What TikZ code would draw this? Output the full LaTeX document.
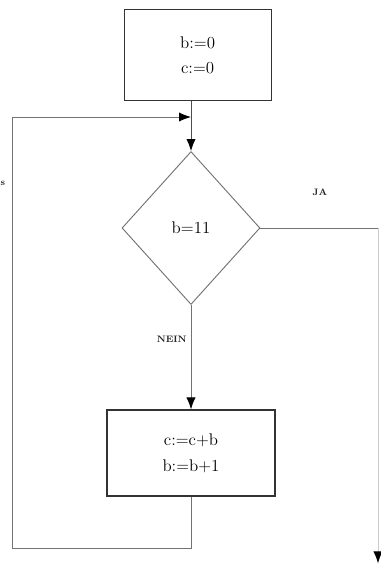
\documentclass[tikz,border=0pt]{standalone}
\usetikzlibrary{shapes.geometric,arrows.meta}
\begin{document}
\begin{tikzpicture}[auto,node distance=5.2cm,>={Latex[length=3.6mm,width=2.8mm,color=black]},line width=0.8pt]
    \tikzstyle{block} = [draw=black!80,line width=1pt,rectangle,align=center,font=\Large,inner sep=0pt]
    \tikzstyle{decision} = [draw=black!55,diamond,font=\Large,inner sep=0pt,minimum width=4.14cm,minimum height=4.59cm]
    \tikzstyle{lbl} = [font=\footnotesize\bfseries,text=black!85]
    \useasboundingbox (0,0) rectangle (11.43,-17.25);
    \node [block,minimum width=4.41cm,minimum height=2.73cm] (init) at (5.93,-1.66) {b:=0\\[4pt] c:=0};
    \node [decision] (test) at (5.73,-6.84) {b=11};
    \node [block,below of=test,node distance=6.75cm,minimum width=5.04cm,minimum height=2.58cm] (body) {c:=c+b\\[4pt] b:=b+1};
    \coordinate (merge) at (test.north |- 0,-3.51);
    \coordinate (exit) at (11.34,-16.9);
    \coordinate (back) at (0.36,-16.44);

    \draw [->,draw=black!70] (test.north |- init.south) -- (test);
    \draw [draw=black!55] (test.east) -- (test.east -| exit);
    \draw [->,draw=black!20] (test.east -| exit) -- (exit);
    \draw [->,draw=black!55] (test) -- node [lbl,pos=0.33,left] {NEIN} (body);
    \draw [->,draw=black!55] (body.south) |- (back) |- (merge);

    \node [lbl] at (9.6,-5.76) {JA};
    \node [lbl] at (0.09,-5.49) {s};
  \end{tikzpicture}
\end{document}
